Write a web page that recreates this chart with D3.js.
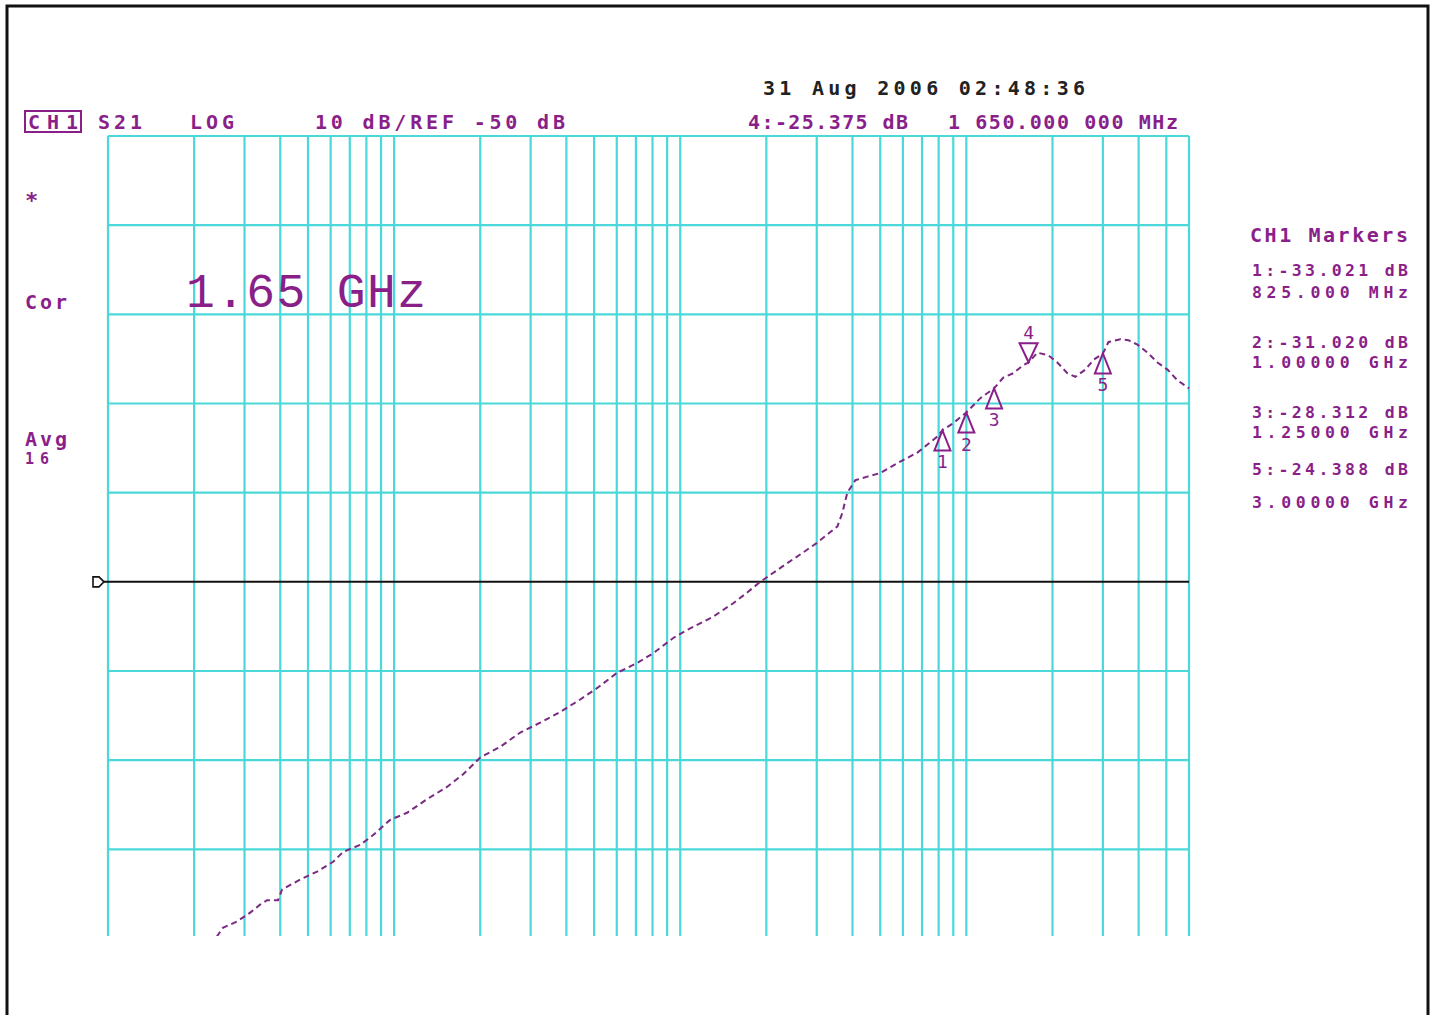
<!DOCTYPE html>
<html>
<head>
<meta charset="utf-8">
<script src="https://cdn.jsdelivr.net/npm/d3@7"></script>
<style>
  html, body { margin: 0; padding: 0; background: #ffffff; }
  svg { display: block; }
</style>
</head>
<body>
<script>
// ---------------- data ----------------
const freqMHz = [2.40, 2.52, 2.82, 3.14, 3.40, 3.60, 3.93, 4.06, 4.69, 5.38, 6.12, 6.63, 7.61, 8.45, 9.68,
  11.1, 13.0, 15.3, 17.4, 20.0, 23.5, 27.6, 32.4, 38.0, 44.7, 51.3, 60.2, 70.7, 80.5, 94.5,
  105.7, 130.4, 153.2, 171.4, 190.4, 236.7, 269.1, 301.3, 354.0, 368.4, 383.7, 409.3, 450.8, 500.3,
  573.8, 674.3, 792.2, 825, 900, 1000, 1119, 1250, 1346, 1459, 1581, 1650, 1771, 1935, 2080, 2254,
  2404, 2607, 2780, 3000, 3140, 3454, 3683, 3963, 4295, 4656, 5046, 5470, 6000];
const s21dB = [-89.8, -88.8, -88.1, -87.1, -86.2, -85.7, -85.7, -84.5, -83.4, -82.5, -81.4, -80.3, -79.5, -78.4, -76.7,
  -75.9, -74.4, -73.0, -71.6, -69.7, -68.5, -66.9, -65.8, -64.6, -63.2, -61.9, -60.2, -59.1, -58.0, -56.3,
  -55.4, -53.9, -52.4, -51.2, -50.0, -47.9, -46.7, -45.6, -43.8, -42.3, -40.0, -38.6, -38.2, -37.8,
  -36.7, -35.5, -33.7, -33.0, -32.2, -31.0, -29.4, -28.3, -27.1, -26.6, -25.7, -25.4, -24.3, -24.6, -25.4, -26.6,
  -27.0, -26.2, -25.1, -24.4, -23.1, -22.8, -22.9, -23.4, -24.3, -25.4, -26.2, -27.4, -28.3];

const markerNum = [1, 2, 3, 4, 5];
const markerFreqMHz = [825, 1000, 1250, 1650, 3000];
const markerdB = [-33.021, -31.020, -28.312, -25.375, -24.388];
const activeMarker = 4;

const gridFreqMHz = [1,2,3,4,5,6,7,8,9,10,20,30,40,50,60,70,80,90,100,200,300,400,500,600,700,800,900,1000,2000,3000,4000,5000,6000];
const gridDB = [0, -10, -20, -30, -40, -60, -70, -80];
const refDB = -50;

const headerTexts = ["CH1", "S21", "LOG", "10 dB/REF -50 dB", "4:-25.375 dB", "1 650.000 000 MHz"];
const dateText = "31 Aug 2006   02:48:36";
const sideTexts = ["*", "Cor", "Avg", "16"];
const bigText = "1.65 GHz";
const markerTitle = "CH1 Markers";
const markerTableLines = ["1:-33.021 dB", "825.000 MHz", "2:-31.020 dB", "1.00000 GHz", "3:-28.312 dB", "1.25000 GHz", "5:-24.388 dB", "3.00000 GHz"];

// ---------------- drawing ----------------
const W = 1432, H = 1015;
const purple = "#8a1f8a";
const traceCol = "#7a2a82";
const cyan = "#4ad8da";
const mono = "'DejaVu Sans Mono', 'Liberation Mono', monospace";

const svg = d3.select("body").append("svg").attr("width", W).attr("height", H);
svg.append("rect").attr("width", W).attr("height", H).attr("fill", "#fff");

// frame
svg.append("path").attr("d", `M7,${H + 5} L7,6 L1428,6 L1428,${H + 5}`)
  .attr("fill", "none").attr("stroke", "#111").attr("stroke-width", 3);

const x = d3.scaleLog().domain([1, 6000]).range([108, 1189]);
const y = d3.scaleLinear().domain([-90, 0]).range([938.5, 136]);
const yBottom = 936;

const grid = svg.append("g");
grid.selectAll("line.v").data(gridFreqMHz).join("line")
  .attr("x1", d => x(d)).attr("x2", d => x(d))
  .attr("y1", y(0)).attr("y2", yBottom)
  .attr("stroke", cyan).attr("stroke-width", 2.2);
grid.selectAll("line.h").data(gridDB).join("line")
  .attr("x1", x(1)).attr("x2", x(6000))
  .attr("y1", d => y(d)).attr("y2", d => y(d))
  .attr("stroke", cyan).attr("stroke-width", 2.2);

// reference line
svg.append("line").attr("x1", 104).attr("x2", x(6000))
  .attr("y1", y(refDB)).attr("y2", y(refDB))
  .attr("stroke", "#111").attr("stroke-width", 2);
svg.append("path")
  .attr("d", `M93,${y(refDB) - 5} L99,${y(refDB) - 5} L104,${y(refDB)} L99,${y(refDB) + 5} L93,${y(refDB) + 5} Z`)
  .attr("fill", "none").attr("stroke", "#111").attr("stroke-width", 1.6);

// trace
const pts = freqMHz.map((f, i) => [f, s21dB[i]]);
svg.append("defs").append("clipPath").attr("id", "clip")
  .append("rect").attr("x", 108).attr("y", 100).attr("width", 1090).attr("height", yBottom - 100);
svg.append("path").datum(pts)
  .attr("clip-path", "url(#clip)")
  .attr("d", d3.line().x(d => x(d[0])).y(d => y(d[1])))
  .attr("fill", "none").attr("stroke", traceCol).attr("stroke-width", 2)
  .attr("stroke-dasharray", "6,4");

// markers
const mg = svg.append("g").attr("fill", "none").attr("stroke", purple).attr("stroke-width", 2);
markerNum.forEach((n, i) => {
  const px = x(markerFreqMHz[i]), py = y(markerdB[i]);
  if (n === activeMarker) {
    mg.append("path").attr("d", `M${px},${py} L${px - 9},${py - 19} L${px + 9},${py - 19} Z`);
    svg.append("text").attr("x", px).attr("y", py - 23).attr("text-anchor", "middle")
      .attr("font-family", mono).attr("font-size", 18).attr("fill", purple).text(n);
  } else {
    mg.append("path").attr("d", `M${px},${py} L${px - 8},${py + 20} L${px + 8},${py + 20} Z`);
    svg.append("text").attr("x", px).attr("y", py + 38).attr("text-anchor", "middle")
      .attr("font-family", mono).attr("font-size", 18).attr("fill", purple).text(n);
  }
});

// text helper
function txt(s, xPos, yPos, opts = {}) {
  const t = svg.append("text").attr("x", xPos).attr("y", yPos)
    .attr("font-family", opts.family || mono)
    .attr("font-size", opts.size || 20)
    .attr("font-weight", opts.weight || "bold")
    .attr("fill", opts.fill || purple)
    .attr("text-anchor", opts.anchor || "start")
    .text(s);
  if (opts.len) t.attr("textLength", opts.len).attr("lengthAdjust", "spacing");
  return t;
}

// header
txt(dateText, 763, 95, { fill: "#222", len: 322 });
svg.append("rect").attr("x", 25).attr("y", 111).attr("width", 56).attr("height", 21)
  .attr("fill", "none").attr("stroke", purple).attr("stroke-width", 2);
txt(headerTexts[0], 28, 129, { len: 50 });
txt(headerTexts[1], 98, 129, { len: 44 });
txt(headerTexts[2], 190, 129, { len: 44 });
txt(headerTexts[3], 315, 129, { len: 250 });
txt(headerTexts[4], 748, 129, { len: 160 });
txt(headerTexts[5], 948, 129, { len: 230 });

// left annotations
txt(sideTexts[0], 25, 208, { size: 22 });
txt(sideTexts[1], 25, 309, { len: 42 });
txt(sideTexts[2], 25, 446, { len: 42 });
txt(sideTexts[3], 25, 464, { len: 24, size: 15 });

// big frequency text
txt(bigText, 186, 307, { family: "'Liberation Mono', monospace", size: 48, len: 240, weight: "normal" });

// marker table
txt(markerTitle, 1250, 242, { len: 158 });
const tableY = [276, 298, 348, 368, 418, 438, 475, 508];
markerTableLines.forEach((s, i) => {
  txt(s, 1408, tableY[i], { anchor: "end", size: 16.5, len: 156 });
});
</script>
</body>
</html>
